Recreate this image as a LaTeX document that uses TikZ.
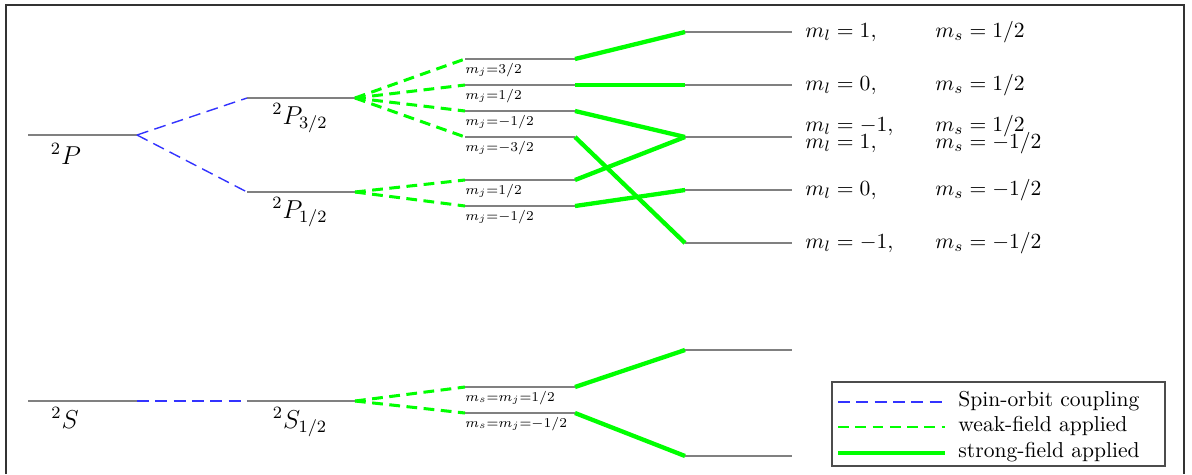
\documentclass[tikz,border=0pt]{standalone}
\begin{document}
\begin{tikzpicture}[x=0.0163cm,y=-0.0163cm,
  lvl/.style={draw=gray, line width=0.75pt},
  socoup/.style={draw=blue!80, dash pattern=on 5.5pt off 3pt, line width=0.65pt},
  weak/.style={draw=green, dash pattern=on 5pt off 3pt, line width=1.4pt},
  strong/.style={draw=green, line width=2pt},
  biglab/.style={font=\large, inner sep=0pt},
  mjlab/.style={anchor=base west, inner sep=0pt, scale=0.9},
  rlab/.style={anchor=base west, inner sep=0pt},
  leglab/.style={anchor=base west, inner sep=0pt}]
\useasboundingbox (0,0) rectangle (1192,474);
% frame
\draw[black!80, line width=0.8pt] (6,474) -- (6,5) -- (1184,5) -- (1184,474);

% ---------- coordinates ----------
\coordinate (Pl) at (28,135);   \coordinate (Pr) at (137,135);
\coordinate (P3l) at (247,98);  \coordinate (P3r) at (355,98);
\coordinate (P1l) at (247,192); \coordinate (P1r) at (355,192);
\foreach \n/\y in {a1/59,a2/85,a3/111,a4/137,b1/180,b2/206}{
  \coordinate (\n l) at (465,\y); \coordinate (\n r) at (575,\y);
}
\foreach \n/\y in {r1/32,r2/85,r3/137,r4/190,r5/243}{
  \coordinate (\n l) at (685,\y); \coordinate (\n r) at (792,\y);
}
\coordinate (Sl) at (28,401);   \coordinate (Sr) at (137,401);
\coordinate (S1l) at (247,401); \coordinate (S1r) at (355,401);
\coordinate (s1l) at (465,387); \coordinate (s1r) at (575,387);
\coordinate (s2l) at (465,413); \coordinate (s2r) at (575,413);
\coordinate (t1l) at (685,350); \coordinate (t1r) at (792,350);
\coordinate (t2l) at (685,456); \coordinate (t2r) at (792,456);

% ---------- levels ----------
\foreach \n in {P,P3,P1,a1,a2,a3,a4,b1,b2,r1,r2,r3,r4,r5,S,S1,s1,s2,t1,t2}{
  \draw[lvl] (\n l) -- (\n r);
}

% ---------- connectors ----------
\draw[socoup] (Pr) -- (P3l);
\draw[socoup] (Pr) -- (P1l);
\draw[socoup] (Sr) -- (S1l);
\foreach \n in {a1,a2,a3,a4}{ \draw[weak] (P3r) -- (\n l); }
\foreach \n in {b1,b2}{ \draw[weak] (P1r) -- (\n l); }
\foreach \n in {s1,s2}{ \draw[weak] (S1r) -- (\n l); }
\draw[strong] (a1r) -- (r1l);
\draw[strong] (a2r) -- (r2l);
\draw[strong] (a3r) -- (r3l);
\draw[strong] (a4r) -- (r5l);
\draw[strong] (b1r) -- (r3l);
\draw[strong] (b2r) -- (r4l);
\draw[strong] (s1r) -- (t1l);
\draw[strong] (s2r) -- (t2l);

% ---------- labels ----------
\node[biglab] (labP) at (66,154) {$^2P$};
\node[biglab] (labP3) at (300,118) {$^2P_{3/2}$};
\node[biglab] (labP1) at (300,212) {$^2P_{1/2}$};
\node[biglab] (labS) at (65,418) {$^2S$};
\node[biglab] (labS1) at (300,422) {$^2S_{1/2}$};

\node[mjlab] (la1) at (465,73) {$\scriptstyle m_j=3/2$};
\node[mjlab] (la2) at (465,99) {$\scriptstyle m_j=1/2$};
\node[mjlab] (la3) at (465,125) {$\scriptstyle m_j=-1/2$};
\node[mjlab] (la4) at (465,151) {$\scriptstyle m_j=-3/2$};
\node[mjlab] (lb1) at (465,194) {$\scriptstyle m_j=1/2$};
\node[mjlab] (lb2) at (465,220) {$\scriptstyle m_j=-1/2$};
\node[mjlab] (ls1) at (465,401) {$\scriptstyle m_s=m_j=1/2$};
\node[mjlab] (ls2) at (465,427) {$\scriptstyle m_s=m_j=-1/2$};

\node[rlab] (ml1) at (805,37)  {$m_l=1,$};
\node[rlab] (ms1) at (935,37)  {$m_s=1/2$};
\node[rlab] (ml2) at (805,90)  {$m_l=0,$};
\node[rlab] (ms2) at (935,90)  {$m_s=1/2$};
\node[rlab] (ml3) at (805,131) {$m_l=-1,$};
\node[rlab] (ms3) at (935,131) {$m_s=1/2$};
\node[rlab] (ml4) at (805,148) {$m_l=1,$};
\node[rlab] (ms4) at (935,148) {$m_s=-1/2$};
\node[rlab] (ml5) at (805,195) {$m_l=0,$};
\node[rlab] (ms5) at (935,195) {$m_s=-1/2$};
\node[rlab] (ml6) at (805,248) {$m_l=-1,$};
\node[rlab] (ms6) at (935,248) {$m_s=-1/2$};

% ---------- legend ----------
\draw[black!70, line width=0.6pt] (832,382) rectangle (1165,466);
\coordinate (g1a) at (838,402); \coordinate (g1b) at (945,402);
\coordinate (g2a) at (838,427); \coordinate (g2b) at (945,427);
\coordinate (g3a) at (838,453); \coordinate (g3b) at (945,453);
\draw[socoup] (g1a) -- (g1b);
\draw[weak, line width=1.1pt] (g2a) -- (g2b);
\draw[strong] (g3a) -- (g3b);
\node[leglab] (t1) at (958,406) {Spin-orbit coupling};
\node[leglab] (t2) at (958,431) {weak-field applied};
\node[leglab] (t3) at (958,457) {strong-field applied};
\end{tikzpicture}
\end{document}
